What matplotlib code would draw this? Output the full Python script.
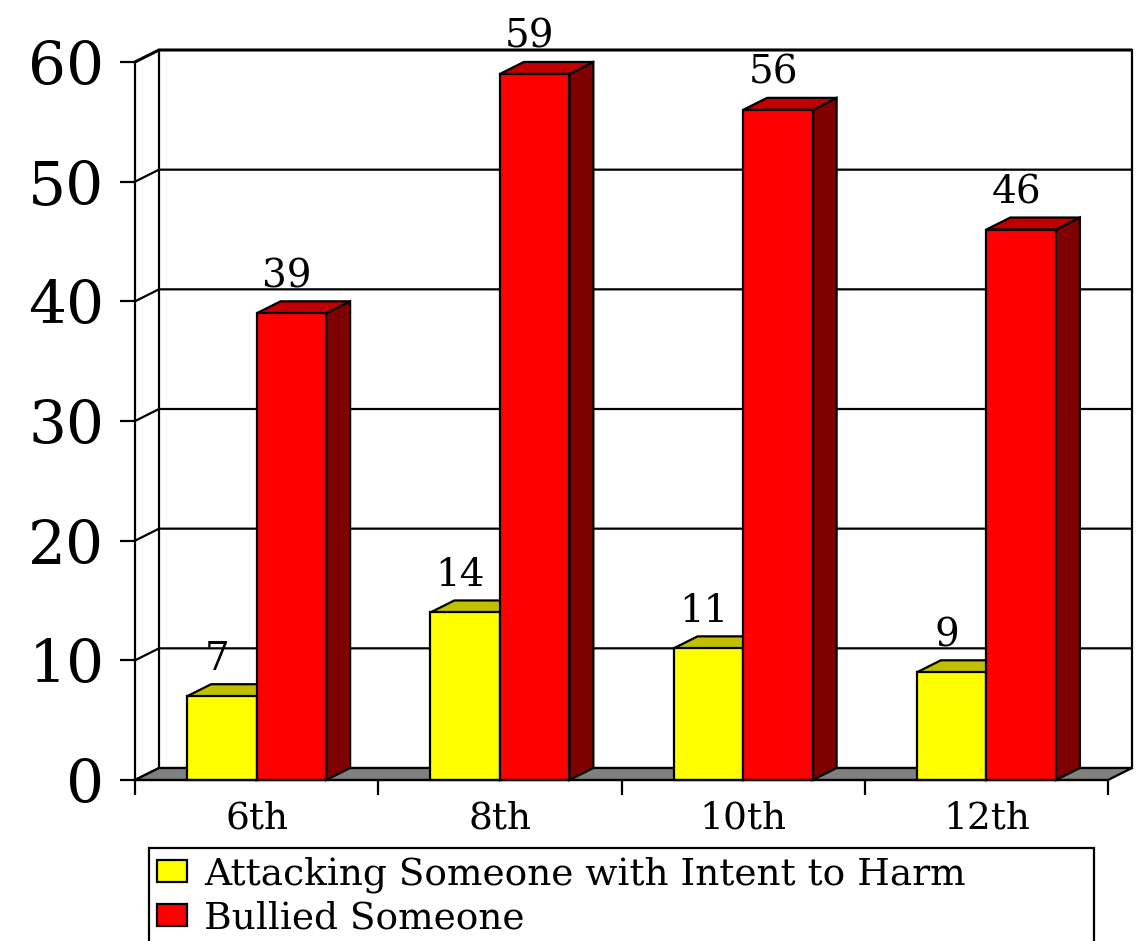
import matplotlib.pyplot as plt
from matplotlib.patches import Polygon, Rectangle, Patch

# data
grades = ['6th', '8th', '10th', '12th']
attacking = [7, 14, 11, 9]
bullied = [39, 59, 56, 46]
series_names = ['Attacking Someone with Intent to Harm', 'Bullied Someone']
y_ticks = [0, 10, 20, 30, 40, 50, 60]

face_colors = ['#FFFF00', '#FF0000']
top_colors = ['#C0C000', '#C00000']
side_colors = ['#808000', '#800000']

plt.rcParams['font.family'] = 'DejaVu Serif'

W, H = 1137, 941
fig = plt.figure(figsize=(W / 100, H / 100), dpi=100)
ax = fig.add_axes([135 / W, 161 / H, 973 / W, 718 / H])
ax.set_xlim(-0.5, len(grades) - 0.5)
ax.set_ylim(0, 60)

# depth of the 3d box, pixels -> data units
ux = 973 / len(grades)
uy = 718 / 60
dx = 24 / ux
dy = 12 / uy
x_lo, x_hi = -0.5, len(grades) - 0.5
lw = 1.6

# back wall + left wall gridlines
for v in y_ticks:
    ax.plot([x_lo, x_lo + dx, x_hi + dx], [v, v + dy, v + dy], color='black',
            lw=2.2 if v == 60 else lw, clip_on=False, zorder=1, solid_capstyle='butt')
ax.plot([x_lo + dx] * 2, [dy, 60 + dy], color='black', lw=lw, clip_on=False, zorder=1)
ax.plot([x_hi + dx] * 2, [dy, 60 + dy], color='black', lw=lw, clip_on=False, zorder=1)

# floor
ax.add_patch(Polygon([(x_lo, 0), (x_hi, 0), (x_hi + dx, dy), (x_lo + dx, dy)],
                     closed=True, fc='#808080', ec='black', lw=lw, clip_on=False, zorder=2))

bw = 1 / 3.5


def bar3d(x0, h, k):
    side = [(x0 + bw, 0), (x0 + bw + dx, dy), (x0 + bw + dx, h + dy), (x0 + bw, h)]
    top = [(x0, h), (x0 + bw, h), (x0 + bw + dx, h + dy), (x0 + dx, h + dy)]
    ax.add_patch(Polygon(side, closed=True, fc=side_colors[k], ec='black', lw=lw,
                         clip_on=False, zorder=3))
    ax.add_patch(Polygon(top, closed=True, fc=top_colors[k], ec='black', lw=lw,
                         clip_on=False, zorder=3))
    ax.add_patch(Rectangle((x0, 0), bw, h, fc=face_colors[k], ec='black', lw=lw,
                           clip_on=False, zorder=3))
    ax.text(x0 + bw / 2 - 0.02, h + dy + 0.5, str(h), ha='center', va='bottom',
            fontsize=28, zorder=5)


for i in range(len(grades)):
    bar3d(i - bw, attacking[i], 0)
    bar3d(i, bullied[i], 1)

# axes styling
for s in ['top', 'right']:
    ax.spines[s].set_visible(False)
ax.spines['left'].set_linewidth(lw)
ax.spines['bottom'].set_linewidth(lw)
ax.spines['bottom'].set_zorder(4)
ax.set_yticks(y_ticks)
ax.set_yticklabels([str(v) for v in y_ticks])
ax.tick_params(axis='y', direction='out', length=11, width=lw, labelsize=43, pad=11)
ax.set_xticks([x_lo + i for i in range(len(grades) + 1)])
ax.set_xticklabels([])
ax.tick_params(axis='x', which='major', direction='out', length=11, width=lw)
ax.set_xticks(range(len(grades)), minor=True)
ax.set_xticklabels(grades, minor=True)
ax.tick_params(axis='x', which='minor', length=0, labelsize=27, pad=15)

handles = [Patch(fc=face_colors[k], ec='black', lw=lw) for k in range(2)]
leg = fig.legend(handles, series_names, loc='upper left', mode='expand',
                 bbox_to_anchor=(149 / W, 0, (1094 - 149) / W, 1 - 848 / H),
                 borderaxespad=0,
                 fontsize=27, frameon=True, fancybox=False, edgecolor='black',
                 framealpha=1, handlelength=0.8, handleheight=0.55,
                 handletextpad=0.45, borderpad=0.22, labelspacing=0.2)
leg.get_frame().set_linewidth(lw)

fig.savefig('out.png', dpi=100)
